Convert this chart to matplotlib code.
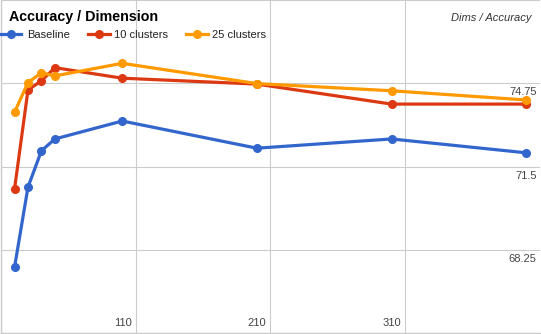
import matplotlib
matplotlib.use("Agg")
import matplotlib.pyplot as plt
from matplotlib.lines import Line2D

plt.rcParams['font.family'] = ['Liberation Sans', 'DejaVu Sans']

dims = [20, 30, 40, 50, 100, 200, 300, 400]
baseline = [67.57, 70.70, 72.12, 72.58, 73.28, 72.22, 72.58, 72.04]
clusters10 = [70.62, 74.49, 74.85, 75.36, 74.95, 74.72, 73.94, 73.94]
clusters25 = [73.62, 74.78, 75.16, 75.04, 75.53, 74.74, 74.46, 74.10]

series_names = ["Baseline", "10 clusters", "25 clusters"]
series_values = [baseline, clusters10, clusters25]
colors = ["#3366cc", "#dc3912", "#ff9900"]

x_ticks = [110, 210, 310]
y_ticks = [68.25, 71.5, 74.75]
x_grid = [10, 110, 210, 310, 410]
y_grid = [65, 68.25, 71.5, 74.75, 78]

W, H = 541, 334
fig = plt.figure(figsize=(W / 100, H / 100), dpi=100)
ax = fig.add_axes([1.05 / W, 0.7 / H, 538.6 / W, 333.3 / H])
ax.set_xlim(10, 410)
ax.set_ylim(65, 78)

for v in x_grid:
    ax.axvline(v, color="#cccccc", lw=0.8, zorder=0)
for v in y_grid:
    ax.axhline(v, color="#cccccc", lw=0.8, zorder=0)

for name, vals, c in zip(series_names, series_values, colors):
    ax.plot(dims, vals, color=c, lw=2.3, marker='o', markersize=5.5,
            solid_capstyle='round', zorder=3)

for s in ['top', 'right']:
    ax.spines[s].set_visible(False)
for s in ['left', 'bottom']:
    ax.spines[s].set_color("#cccccc")
    ax.spines[s].set_linewidth(1.0)
ax.set_xticks([])
ax.set_yticks([])

for t in y_ticks:
    ax.annotate(f"{t:g}", xy=(1, t), xycoords=('axes fraction', 'data'),
                xytext=(-3, -4), textcoords='offset pixels',
                ha='right', va='top', fontsize=8, color="#444444")
for t in x_ticks:
    ax.annotate(f"{t}", xy=(t, 0), xycoords=('data', 'axes fraction'),
                xytext=(-4, 5), textcoords='offset pixels',
                ha='right', va='bottom', fontsize=8, color="#444444")

def fx(px):
    return px / W

def fy(py):
    return 1 - py / H

fig.text(fx(9), fy(21), "Accuracy / Dimension", fontsize=10.3, fontweight='bold',
         color="#000000", ha='left', va='baseline')
fig.text(fx(531.5), fy(20.7), "Dims / Accuracy", fontsize=8, style='italic',
         color="#333333", ha='right', va='baseline')

legend_x = [(0, 21, 27), (88, 110, 114), (186, 208, 212)]
for (x0, x1, tx), name, c in zip(legend_x, series_names, colors):
    fig.add_artist(Line2D([fx(x0), fx(x1)], [fy(34.3), fy(34.3)], color=c, lw=2.3,
                          transform=fig.transFigure))
    fig.add_artist(Line2D([fx((x0 + x1) / 2)], [fy(34.3)], color=c, marker='o',
                          markersize=5.5, transform=fig.transFigure))
    fig.text(fx(tx), fy(37.5), name, fontsize=8, color="#222222",
             ha='left', va='baseline')

fig.savefig("out.png", dpi=100)
